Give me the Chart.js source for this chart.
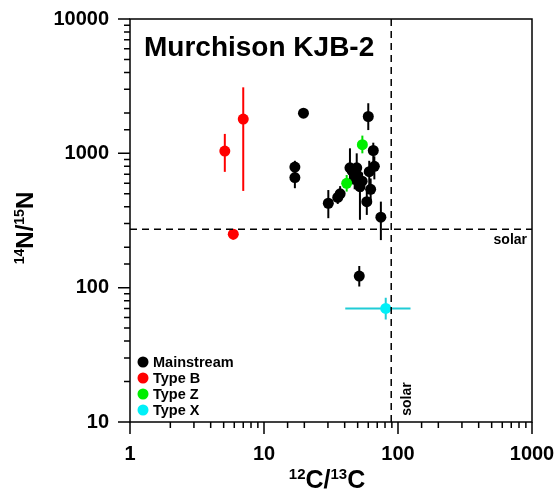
<!DOCTYPE html>
<html>
<head>
<meta charset="utf-8">
<script src="https://cdn.jsdelivr.net/npm/chart.js@4/dist/chart.umd.min.js"></script>
<style>
  html, body { margin: 0; padding: 0; background: #fff; }
</style>
</head>
<body>
<canvas id="chart" width="559" height="493"></canvas>
<script>
// 12C/13C (x) and 14N/15N (y) with error ranges
const mainC   = [19.7, 60, 65.4, 17.0, 17.0, 43.8, 49.2, 66.6, 61, 52, 47.5, 62.5, 58.5, 74.5, 37, 35.5, 30.2, 51.4, 45.5, 54, 49.5];
const mainN   = [1990, 1880, 1050, 790, 660, 780, 780, 800, 730, 565, 640, 540, 437, 335, 500, 470, 425, 122, 740, 620, 690];
const mainNLo = [1990, 1490, 850, 700, 550, 640, 600, 640, 560, 320, 540, 440, 348, 226, 440, 420, 329, 102, 660, 520, 600];
const mainNHi = [1990, 2360, 1200, 880, 760, 1090, 1000, 950, 880, 680, 760, 650, 520, 437, 570, 530, 533, 145, 830, 720, 780];

const typeBC   = [5.1, 7.0, 5.9];
const typeBN   = [1040, 1800, 250];
const typeBNLo = [728, 525, 228];
const typeBNHi = [1395, 3100, 270];

const typeZC   = [54.2, 41.4];
const typeZN   = [1160, 598];
const typeZNLo = [1000, 519];
const typeZNHi = [1355, 690];

const typeXC   = [81];
const typeXN   = [70];
const typeXNLo = [58];
const typeXNHi = [84];
const typeXCLo = [40.4];
const typeXCHi = [124];

const solarC = 89;
const solarN = 272;

const xTickLabels = [1, 10, 100, 1000];
const yTickLabels = [10, 100, 1000, 10000];

const FONT = '"Liberation Sans", Arial, sans-serif';

function toPoints(xs, ys, yLo, yHi, xLo, xHi) {
  return xs.map((x, i) => ({
    x: x, y: ys[i],
    yMin: yLo[i], yMax: yHi[i],
    xMin: xLo ? xLo[i] : x, xMax: xHi ? xHi[i] : x
  }));
}

function isDecade(v) {
  const l = Math.log10(v);
  return Math.abs(l - Math.round(l)) < 1e-6;
}

// error bars drawn under the points
const errorBars = {
  id: 'errorBars',
  beforeDatasetsDraw(chart) {
    const { ctx, scales: { x, y } } = chart;
    ctx.save();
    ctx.lineWidth = 2;
    chart.data.datasets.forEach((ds) => {
      ctx.strokeStyle = ds.barColor;
      ds.data.forEach((p) => {
        const px = x.getPixelForValue(p.x);
        const py = y.getPixelForValue(p.y);
        ctx.beginPath();
        if (p.yMin !== p.yMax) {
          ctx.moveTo(px, y.getPixelForValue(p.yMin));
          ctx.lineTo(px, y.getPixelForValue(p.yMax));
        }
        if (p.xMin !== p.xMax) {
          ctx.moveTo(x.getPixelForValue(p.xMin), py);
          ctx.lineTo(x.getPixelForValue(p.xMax), py);
        }
        ctx.stroke();
      });
    });
    ctx.restore();
  }
};

// frame, tick marks, solar lines, labels, titles, legend
const decorations = {
  id: 'decorations',
  afterDatasetsDraw(chart) {
    const { ctx, chartArea: a, scales: { x, y } } = chart;
    ctx.save();

    // solar reference lines
    ctx.strokeStyle = '#000';
    ctx.lineWidth = 1.5;
    ctx.setLineDash([7, 5]);
    const sx = x.getPixelForValue(solarC);
    const sy = y.getPixelForValue(solarN);
    ctx.beginPath();
    ctx.moveTo(a.left, sy); ctx.lineTo(a.right, sy);
    ctx.moveTo(sx, a.top); ctx.lineTo(sx, a.bottom);
    ctx.stroke();
    ctx.setLineDash([]);

    ctx.fillStyle = '#000';
    ctx.font = 'bold 14px ' + FONT;
    ctx.textAlign = 'right';
    ctx.textBaseline = 'alphabetic';
    ctx.fillText('solar', a.right - 5, sy + 15);
    ctx.save();
    ctx.translate(sx + 20, a.bottom - 23);
    ctx.rotate(-Math.PI / 2);
    ctx.textAlign = 'center';
    ctx.fillText('solar', 0, 0);
    ctx.restore();

    // frame
    ctx.lineWidth = 1.5;
    ctx.strokeRect(a.left, a.top, a.right - a.left, a.bottom - a.top);

    // tick marks, outside
    ctx.beginPath();
    x.ticks.forEach((t) => {
      const px = x.getPixelForValue(t.value);
      const len = isDecade(t.value) ? 12 : 6;
      ctx.moveTo(px, a.bottom); ctx.lineTo(px, a.bottom + len);
    });
    y.ticks.forEach((t) => {
      const py = y.getPixelForValue(t.value);
      const len = isDecade(t.value) ? 12 : 6;
      ctx.moveTo(a.left, py); ctx.lineTo(a.left - len, py);
    });
    ctx.stroke();

    // title
    ctx.font = 'bold 28px ' + FONT;
    ctx.textAlign = 'left';
    ctx.fillText('Murchison KJB-2', a.left + 14, a.top + 37);

    // legend
    ctx.font = 'bold 14.5px ' + FONT;
    ctx.textBaseline = 'middle';
    const n = chart.data.datasets.length;
    chart.data.datasets.forEach((ds, i) => {
      const ly = a.bottom - 12 - (n - 1 - i) * 16;
      ctx.fillStyle = ds.backgroundColor;
      ctx.beginPath();
      ctx.arc(a.left + 13, ly, 5.5, 0, Math.PI * 2);
      ctx.fill();
      ctx.fillStyle = '#000';
      ctx.fillText(ds.label, a.left + 23, ly + 1);
    });

    // axis titles with superscripts
    function drawSup(parts, big, small) {
      let w = 0;
      parts.forEach((p) => {
        ctx.font = 'bold ' + (p.sup ? small : big) + 'px ' + FONT;
        w += ctx.measureText(p.t).width;
      });
      let cx = -w / 2;
      ctx.textAlign = 'left';
      ctx.textBaseline = 'alphabetic';
      parts.forEach((p) => {
        ctx.font = 'bold ' + (p.sup ? small : big) + 'px ' + FONT;
        ctx.fillText(p.t, cx, p.sup ? -big * 0.36 : 0);
        cx += ctx.measureText(p.t).width;
      });
    }
    ctx.fillStyle = '#000';
    ctx.save();
    ctx.translate((a.left + a.right) / 2 - 4, 488);
    drawSup([{ t: '12', sup: true }, { t: 'C/' }, { t: '13', sup: true }, { t: 'C' }], 25, 15);
    ctx.restore();
    ctx.save();
    ctx.translate(33, 228);
    ctx.rotate(-Math.PI / 2);
    drawSup([{ t: '14', sup: true }, { t: 'N/' }, { t: '15', sup: true }, { t: 'N' }], 24, 14);
    ctx.restore();

    ctx.restore();
  }
};

const tickFont = { family: FONT, size: 20, weight: 'bold' };

new Chart(document.getElementById('chart'), {
  type: 'scatter',
  data: {
    datasets: [
      {
        label: 'Mainstream',
        data: toPoints(mainC, mainN, mainNLo, mainNHi),
        backgroundColor: '#000000', borderColor: '#000000', barColor: '#000000',
        pointRadius: 5.5, borderWidth: 0, order: 4
      },
      {
        label: 'Type B',
        data: toPoints(typeBC, typeBN, typeBNLo, typeBNHi),
        backgroundColor: '#ff0000', borderColor: '#ff0000', barColor: '#ff0000',
        pointRadius: 5.5, borderWidth: 0, order: 3
      },
      {
        label: 'Type Z',
        data: toPoints(typeZC, typeZN, typeZNLo, typeZNHi),
        backgroundColor: '#00ee00', borderColor: '#00ee00', barColor: '#00dd00',
        pointRadius: 5.5, borderWidth: 0, order: 1
      },
      {
        label: 'Type X',
        data: toPoints(typeXC, typeXN, typeXNLo, typeXNHi, typeXCLo, typeXCHi),
        backgroundColor: '#00f0f8', borderColor: '#00f0f8', barColor: '#20ccd6',
        pointRadius: 5.5, borderWidth: 0, order: 2
      }
    ]
  },
  options: {
    responsive: false,
    animation: false,
    layout: { padding: { left: 0, top: 19, right: 27, bottom: 0 } },
    plugins: {
      legend: { display: false },
      tooltip: { enabled: false }
    },
    scales: {
      x: {
        type: 'logarithmic',
        min: 1, max: 1000,
        border: { display: false },
        grid: { drawOnChartArea: false, tickLength: 12, tickColor: 'rgba(0,0,0,0)' },
        ticks: {
          autoSkip: false, maxRotation: 0, padding: 8,
          color: '#000', font: tickFont,
          callback: (v) => (xTickLabels.includes(Math.round(v)) && isDecade(v) ? String(Math.round(v)) : '')
        },
        afterFit(scale) { scale.height = 71; scale.paddingLeft = 0; scale.paddingRight = 0; }
      },
      y: {
        type: 'logarithmic',
        min: 10, max: 10000,
        border: { display: false },
        grid: { drawOnChartArea: false, tickLength: 12, tickColor: 'rgba(0,0,0,0)' },
        ticks: {
          autoSkip: false, padding: 9,
          color: '#000', font: tickFont,
          callback: (v) => (yTickLabels.includes(Math.round(v)) && isDecade(v) ? String(Math.round(v)) : '')
        },
        afterFit(scale) { scale.width = 130; scale.paddingTop = 0; scale.paddingBottom = 0; }
      }
    }
  },
  plugins: [errorBars, decorations]
});
</script>
</body>
</html>
